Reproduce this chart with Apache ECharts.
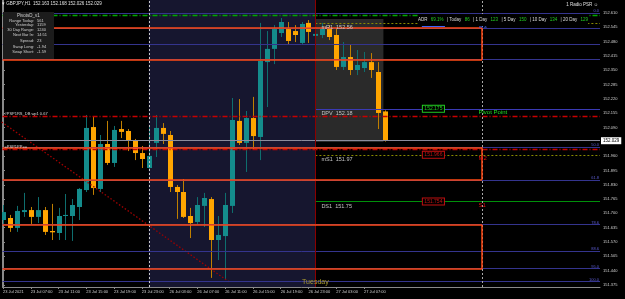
<!DOCTYPE html>
<html><head><meta charset="utf-8">
<script src="https://cdn.jsdelivr.net/npm/echarts@6/dist/echarts.min.js"></script>
<style>html,body{margin:0;padding:0;background:#000;}#c{width:625px;height:299px;}</style>
</head><body><div id="c"></div>
<script>
// ---------- data ----------
const tickIndex = [0,4,8,12,16,20,24,28,32,36,40,44,48,52];
const tickLabels = ["23 Jul 2021","23 Jul 07:00","23 Jul 11:00","23 Jul 15:00","23 Jul 19:00","23 Jul 23:00","26 Jul 03:00","26 Jul 07:00","26 Jul 11:00","26 Jul 15:00","26 Jul 19:00","26 Jul 23:00","27 Jul 03:00","27 Jul 07:00"];
const priceTicks = [152.610,152.545,152.480,152.415,152.350,152.285,152.220,152.155,152.090,151.960,151.895,151.830,151.765,151.700,151.635,151.570,151.505,151.440,151.375];

const openP = [151.670,151.679,151.634,151.706,151.715,151.684,151.715,151.620,151.611,151.688,151.688,151.729,151.806,152.092,151.811,152.015,151.929,152.083,152.074,152.033,151.974,151.906,152.020,152.088,152.056,151.820,151.797,151.688,151.661,151.734,151.765,151.579,151.597,151.734,152.120,152.020,152.133,152.047,152.387,152.447,152.519,152.537,152.528,152.474,152.565,152.506,152.510,152.537,152.510,152.365,152.410,152.351,152.360,152.387,152.342,152.163];
const closeP = [151.706,151.634,151.711,151.715,151.684,151.715,151.616,151.614,151.688,151.693,151.738,151.811,152.088,151.815,152.015,151.929,152.079,152.070,152.033,151.974,151.947,151.961,152.088,152.061,151.820,151.797,151.684,151.656,151.738,151.770,151.579,151.602,151.738,152.124,152.020,152.133,152.051,152.392,152.447,152.537,152.569,152.483,152.510,152.560,152.524,152.515,152.542,152.501,152.365,152.410,152.351,152.374,152.387,152.351,152.156,152.029];
const highP = [151.738,151.693,151.734,151.793,151.729,151.774,151.729,151.743,151.725,151.788,151.765,151.815,152.147,152.142,152.056,152.120,152.097,152.120,152.083,152.038,152.006,152.092,152.147,152.110,152.074,151.829,151.856,151.725,151.774,151.793,151.774,151.688,151.793,152.224,152.219,152.165,152.229,152.565,152.528,152.555,152.587,152.569,152.555,152.569,152.578,152.533,152.565,152.555,152.542,152.478,152.465,152.442,152.433,152.428,152.387,152.168];
const lowP = [151.652,151.616,151.616,151.684,151.652,151.656,151.602,151.579,151.579,151.579,151.575,151.670,151.797,151.784,151.797,151.920,151.911,152.042,151.983,151.942,151.906,151.897,151.956,152.015,151.797,151.675,151.679,151.588,151.647,151.638,151.407,151.488,151.398,151.702,152.011,151.888,151.988,151.942,152.183,152.378,152.501,152.465,152.478,152.465,152.474,152.487,152.496,152.487,152.351,152.351,152.328,152.328,152.342,152.315,152.083,152.026];

const fibPrices = [152.610,152.542,152.469,152.397,152.000,151.853,151.648,151.526,151.447,151.389];
const fibLabels = ["0.0","","","","50.0","61.8","78.6","88.6","95.0","100.0"];
const rectBands = [[152.542,152.397],[152.000,151.853],[151.648,151.447]];
const redPivotPrices = [152.142,151.988];
const redPivotTexts = ["#PSP1RS_DB wp1 0.67","=PSP1PP=="];
const adrPrice = 152.596;
const currentPrice = 152.029;
const levelPrices = [152.565,152.175,151.966,151.754];
const levelTexts = ["mR1  152.56","DPV  152.18","mS1  151.97","DS1  151.75"];
const levelBoxes = ["152.565","152.175","151.966","151.754"];
const levelTags = ["M3","Pivot Point","M2","S1"];
const trendline = [[-0.2,152.115],[32.8,151.384]];
const mondayStart = 21, tuesdayStart = 45, rectEnd = 69;
const todayBox = [45, 54.8, 152.583, 152.024];
const dayLabel = "Tuesday";
const dayLabelPrice = 151.389;
const panelRows = ["Range Today:","Yesterday:","30 Day Range:","Next Bar In:","Spread:","Swap Long:","Swap Short:"];
const panelVals = ["561","1159","1240","14:51","23","-1.94","-1.59"];

// ---------- styles ----------
const FONT = 'Liberation Sans';
const TEAL='#148c8c', ORANGE='#ffa500', TEAL_W='#0e6e6e', ORANGE_W='#c07f00';
const NAVY='#34348e';
const RECT='#ff4a14';
const X_MIN=-0.07, X_MAX=86;
const levelLineColors = ['#8a8a00','#3a3ab4','#8a8a00','#00900a'];
const levelLineTypes = [[2,2],'solid',[2,2],'solid'];
const levelTagColors = ['#3d63ff','#22dd22','#e01010','#e01010'];
const levelBoxColors = ['#3d63ff','#22cc22','#c01010','#c01010'];

const chart = echarts.init(document.getElementById('c'), null, {renderer:'canvas', width:625, height:299});
const candleData = openP.map((o,i)=>[i,o,closeP[i],lowP[i],highP[i]]);

const textData = [];
levelPrices.forEach((p,k)=>{ textData.push([tuesdayStart,p,k,0]); textData.push([62,p,k,1]); textData.push([68.5,p,k,2]); });
textData.push([tuesdayStart, dayLabelPrice, 0, 3]);

const hLines = [];
fibPrices.forEach((p,k)=>hLines.push({yAxis:p, lineStyle:{color:NAVY,width:1,type:'solid'},
  label:{show:!!fibLabels[k], position:'insideEndTop', formatter:fibLabels[k], color:'#5c5cd0', fontSize:4, fontFamily:FONT, distance:[1,0]}}));
hLines.push({yAxis:adrPrice, lineStyle:{color:'#00a800',width:1.3,type:[5,2,1,2]}, label:{show:false}});
redPivotPrices.forEach((p,k)=>hLines.push({yAxis:p, lineStyle:{color:'#c80000',width:1.3,type:[5,2,1,2]},
  label:{show:true, position:'insideStartTop', formatter:redPivotTexts[k], color:'#d8d8d8', fontSize:4, fontFamily:FONT, distance:[2,1]}}));
levelPrices.forEach((p,k)=>hLines.push([{coord:[tuesdayStart,p], lineStyle:{color:levelLineColors[k],width:1,type:levelLineTypes[k]}, label:{show:false}},{coord:[X_MAX,p]}]));
hLines.push({yAxis:currentPrice, lineStyle:{color:'#8c8c9c',width:1,type:'solid'},
  label:{show:true, position:'end', formatter:'152.029', backgroundColor:'#fff', color:'#000', fontSize:4.5, fontFamily:FONT, padding:[1,2], distance:1}});
const vLines = [
  {xAxis:mondayStart, lineStyle:{color:'#c8c8c8',width:1,type:[2,2]}},
  {xAxis:rectEnd, lineStyle:{color:'#a8a8a8',width:1,type:[2,2]}},
  {xAxis:tuesdayStart, lineStyle:{color:'#8b0000',width:1,type:'solid'}}
];
const rectLines = [];
rectBands.forEach(b=>{
  const st={lineStyle:{color:RECT,width:1.5,type:'solid'},label:{show:false}};
  rectLines.push([Object.assign({coord:[X_MIN,b[0]]},st),{coord:[rectEnd,b[0]]}]);
  rectLines.push([Object.assign({coord:[X_MIN,b[1]]},st),{coord:[rectEnd,b[1]]}]);
  rectLines.push([Object.assign({coord:[rectEnd,b[0]]},st),{coord:[rectEnd,b[1]]}]);
});

const option = {
  backgroundColor:'#000',
  animation:false,
  grid:{left:1,right:25,top:0,bottom:12},
  xAxis:{type:'value',min:X_MIN,max:X_MAX,splitLine:{show:false},
    axisLine:{show:true,onZero:false,lineStyle:{color:'#8a8a8a'}},
    axisTick:{show:true,customValues:tickIndex,length:2,lineStyle:{color:'#8a8a8a'}},
    axisLabel:{customValues:tickIndex,formatter:v=>tickLabels[tickIndex.indexOf(Math.round(v))]||'',align:'left',color:'#d0d0d0',fontSize:4,fontFamily:FONT,margin:3,hideOverlap:false}},
  yAxis:[
    {type:'value',position:'right',min:151.3657,max:152.669,splitLine:{show:false},
     axisLine:{show:true,lineStyle:{color:'#8a8a8a'}},
     axisTick:{show:true,customValues:priceTicks,length:2,lineStyle:{color:'#8a8a8a'}},
     axisLabel:{customValues:priceTicks,formatter:v=>Number(v).toFixed(3),color:'#d0d0d0',fontSize:4,fontFamily:FONT,margin:3}},
    {type:'value',position:'left',min:151.3657,max:152.669,splitLine:{show:false},
     axisLine:{show:true,lineStyle:{color:'#8a8a8a'}},axisTick:{show:false},axisLabel:{show:false}}
  ],
  series:[
    {type:'line',data:[],z:1,silent:true,
     markArea:{silent:true,data:[
       [{xAxis:mondayStart,itemStyle:{color:'#16162f'}},{xAxis:tuesdayStart}],
       [{coord:[todayBox[0],todayBox[2]],itemStyle:{color:'#2a2a2a'}},{coord:[todayBox[1],todayBox[3]]}]
     ]}},
    {type:'custom',z:3,clip:true,data:candleData,
     renderItem:(params,api)=>{
       const x=api.value(0),o=api.value(1),c=api.value(2),l=api.value(3),h=api.value(4);
       const pO=api.coord([x,o]),pC=api.coord([x,c]),pL=api.coord([x,l]),pH=api.coord([x,h]);
       const up=c>=o; const col=up?TEAL:ORANGE; const wc=up?TEAL_W:ORANGE_W;
       const cx=Math.round(pO[0])+0.5; const w=5;
       const top=Math.min(pO[1],pC[1]); const hh=Math.max(1,Math.abs(pO[1]-pC[1]));
       return {type:'group',children:[
         {type:'line',shape:{x1:cx,y1:pH[1],x2:cx,y2:pL[1]},style:{stroke:wc,lineWidth:1}},
         {type:'rect',shape:{x:cx-w/2,y:top,width:w,height:hh},style:{fill:col}}
       ]};
     }},
    {type:'line',data:trendline,z:4,symbol:'none',silent:true,lineStyle:{color:'#a00000',width:1.3,type:[1.5,2]}},
    {type:'line',data:[],z:4,silent:true,
     markLine:{silent:true,symbol:['none','none'],data:hLines.concat(vLines)}},
    {type:'line',data:[],z:5,silent:true,
     markLine:{silent:true,symbol:['none','none'],data:rectLines}},
    {type:'custom',z:6,clip:false,data:textData,
     renderItem:(params,api)=>{
       const k=api.value(2),kind=api.value(3);
       const pt=api.coord([api.value(0),api.value(1)]);
       if(kind===0) return {type:'text',x:pt[0]+6,y:pt[1]+1.5,style:{text:levelTexts[k],fill:'#c4c4c4',font:'5.5px '+FONT,textAlign:'left',textVerticalAlign:'top'}};
       if(kind===1) return {type:'text',x:pt[0],y:pt[1],style:{text:levelBoxes[k],fill:levelBoxColors[k],font:'5px '+FONT,textAlign:'center',textVerticalAlign:'middle',backgroundColor:'#000',borderColor:levelBoxColors[k],borderWidth:1,padding:[0.5,1.5]}};
       if(kind===2) return {type:'text',x:pt[0],y:pt[1]+0.5,style:{text:levelTags[k],fill:levelTagColors[k],font:'6px '+FONT,textAlign:'left',textVerticalAlign:'top'}};
       return {type:'text',x:pt[0],y:pt[1],style:{text:dayLabel,fill:'#a89a30',font:'7px '+FONT,textAlign:'center',textVerticalAlign:'middle'}};
     }}
  ],
  graphic:[
    {type:'text',left:2,top:1,z:20,style:{text:'▾ GBPJPY,H1  152.163 152.168 152.026 152.029',fill:'#e0e0e0',font:'4.5px '+FONT}},
    {type:'text',right:27,top:2,z:20,style:{text:'1 Radio PSR ☺',fill:'#e0e0e0',font:'4.5px '+FONT}},
    {type:'text',left:418,top:14,z:20,style:{
      text:'{w|ADR} {g|69.1%} {w|| Today} {g|86} {w|| 1 Day} {g|123} {w|| 5 Day} {g|150} {w|| 10 Day} {g|134} {w|| 20 Day} {g|129}',
      backgroundColor:'#000',
      rich:{w:{fill:'#dcdcdc',font:'4.5px '+FONT},g:{fill:'#22cc22',font:'4.5px '+FONT}}}},
    {type:'rect',left:3,top:12,z:20,shape:{width:51,height:47},style:{fill:'#1c1c1c'}},
    {type:'text',left:17,top:13,z:21,style:{text:'PivotsD_v1',fill:'#d0d0d0',font:'4.5px '+FONT}},
  ].concat(panelRows.map((r,i)=>({type:'text',z:21,x:34,y:[20.5,25,29.7,34.7,41,46.5,51.7][i],style:{text:r,fill:'#d0d0d0',font:'4px '+FONT,textAlign:'right',textVerticalAlign:'middle'}})))
   .concat(panelVals.map((r,i)=>({type:'text',z:21,x:37,y:[20.5,25,29.7,34.7,41,46.5,51.7][i],style:{text:r,fill:'#d0d0d0',font:'4px '+FONT,textAlign:'left',textVerticalAlign:'middle'}})))
};
chart.setOption(option);
</script>
</body></html>
